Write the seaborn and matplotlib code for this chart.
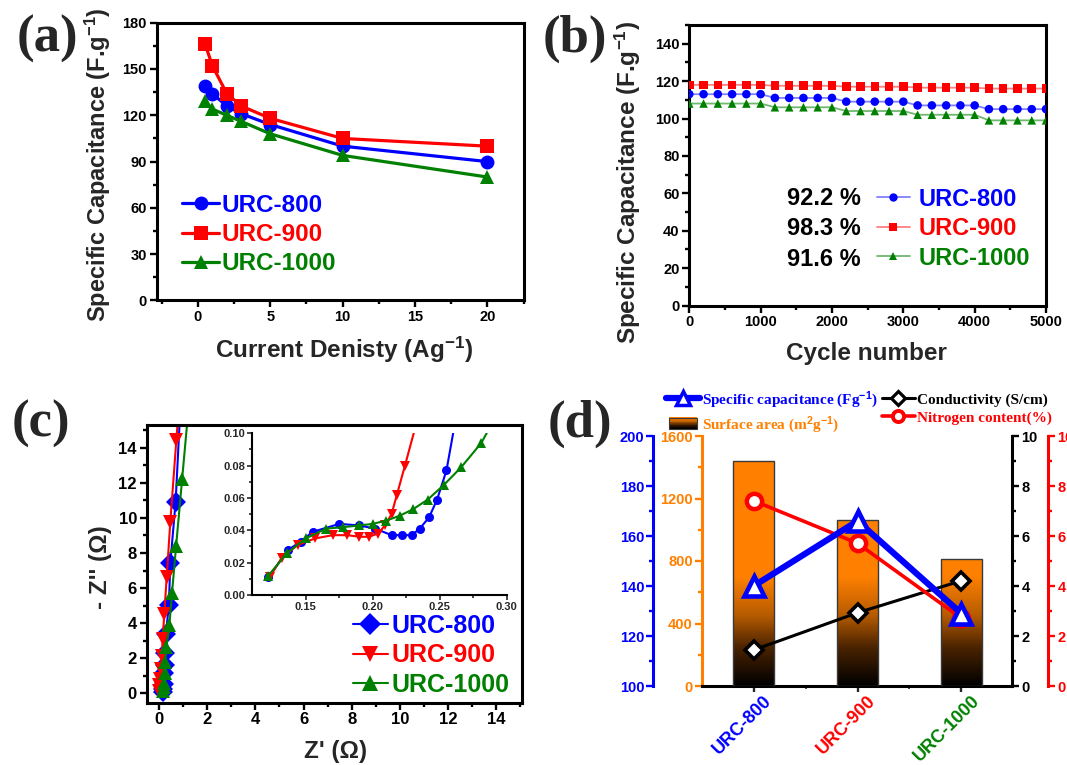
import numpy as np
import pandas as pd
import matplotlib
matplotlib.use("Agg")
import matplotlib.pyplot as plt
import matplotlib.transforms as mtransforms
import seaborn as sns
from matplotlib.lines import Line2D
from matplotlib.patches import Rectangle, Patch
from matplotlib.legend_handler import HandlerBase
from matplotlib.colors import LinearSegmentedColormap
from matplotlib.ticker import MultipleLocator

# ------------------------------------------------------------------ data
samples = ["URC-800", "URC-900", "URC-1000"]

# (a) rate capability
current_density = [0.5, 1, 2, 3, 5, 10, 20]
cap_a_800 = [139, 134, 126, 121, 114, 100, 90]
cap_a_900 = [166, 152, 134, 126, 118, 105, 100]
cap_a_1000 = [129, 124, 120, 116, 108, 94, 80]

# (b) cycling stability
cycles = [0, 200, 400, 600, 800, 1000, 1200, 1400, 1600, 1800, 2000, 2200, 2400,
          2600, 2800, 3000, 3200, 3400, 3600, 3800, 4000, 4200, 4400, 4600, 4800, 5000]
cap_b_800 = [113, 113, 113, 113, 113, 113, 111, 111, 111, 111, 111, 109, 109,
             109, 109, 109, 107, 107, 107, 107, 107, 105, 105, 105, 105, 105]
cap_b_900 = [118, 118, 118, 118, 118, 118, 117.5, 117.5, 117.5, 117.5, 117.5, 117, 117,
             117, 117, 117, 116.5, 116.5, 116.5, 116.5, 116.5, 116, 116, 116, 116, 116]
cap_b_1000 = [108, 108, 108, 108, 108, 108, 106, 106, 106, 106, 106, 104, 104,
              104, 104, 104, 102, 102, 102, 102, 102, 99, 99, 99, 99, 99]
retention = ["92.2 %", "98.3 %", "91.6 %"]

# (c) Nyquist plot, main
zre_800 = [0.15, 0.18, 0.20, 0.22, 0.24, 0.26, 0.29, 0.41, 0.47, 0.69, 0.95]
zim_800 = [0.07, 0.25, 0.55, 1.16, 1.60, 2.28, 3.40, 5.05, 7.42, 10.92, 18.0]
zre_900 = [-0.02, 0.00, 0.05, 0.08, 0.12, 0.15, 0.22, 0.32, 0.47, 0.72, 0.91]
zim_900 = [0.15, 0.45, 0.82, 1.38, 2.13, 3.07, 4.52, 6.62, 9.79, 14.43, 18.0]
zre_1000 = [0.18, 0.20, 0.22, 0.23, 0.26, 0.31, 0.43, 0.54, 0.71, 0.96, 1.34]
zim_1000 = [0.13, 0.35, 0.60, 1.16, 1.81, 2.65, 3.87, 5.72, 8.39, 12.22, 18.0]

# (c) Nyquist plot, inset (high frequency region)
in_zre_800 = [0.122, 0.137, 0.146, 0.155, 0.175, 0.190, 0.202, 0.214, 0.222, 0.229,
              0.235, 0.242, 0.248, 0.255, 0.2613]
in_zim_800 = [0.011, 0.028, 0.033, 0.039, 0.044, 0.043, 0.041, 0.037, 0.037, 0.037,
              0.041, 0.048, 0.059, 0.077, 0.106]
in_zre_900 = [0.123, 0.132, 0.144, 0.157, 0.170, 0.181, 0.190, 0.197, 0.204, 0.209,
              0.214, 0.218, 0.224, 0.2325]
in_zim_900 = [0.011, 0.023, 0.031, 0.035, 0.037, 0.037, 0.036, 0.036, 0.038, 0.043,
              0.050, 0.062, 0.080, 0.106]
in_zre_1000 = [0.122, 0.136, 0.150, 0.165, 0.178, 0.190, 0.200, 0.210, 0.220, 0.230,
               0.241, 0.253, 0.266, 0.281, 0.289]
in_zim_1000 = [0.012, 0.026, 0.035, 0.041, 0.042, 0.043, 0.044, 0.046, 0.049, 0.053,
               0.059, 0.068, 0.079, 0.094, 0.106]

# (d) comparison
surface_area = [1438, 1064, 810]
specific_cap = [140, 166, 129]
conductivity = [1.44, 2.93, 4.21]
nitrogen = [7.41, 5.71, 2.71]

# ------------------------------------------------------------------ style
BLUE, RED, GREEN, ORANGE = "#0000FF", "#FF0000", "#008000", "#FF8000"
pal = {"URC-800": BLUE, "URC-900": RED, "URC-1000": GREEN}

sns.set_style("ticks")
plt.rcParams["font.family"] = ["Liberation Sans", "DejaVu Sans"]
plt.rcParams["font.weight"] = "bold"
plt.rcParams["axes.labelweight"] = "bold"
plt.rcParams["mathtext.fontset"] = "custom"
plt.rcParams["mathtext.rm"] = "Liberation Sans:bold"
plt.rcParams["mathtext.bf"] = "Liberation Sans:bold"
plt.rcParams["mathtext.it"] = "Liberation Sans:bold:italic"
plt.rcParams["mathtext.default"] = "bf"

W, H = 1067, 765
fig = plt.figure(figsize=(W / 100, H / 100), dpi=100)


def box(l, r, t, b):
    return [l / W, 1 - b / H, (r - l) / W, (b - t) / H]


def frame(ax, labelsize=10.5):
    for s in ax.spines.values():
        s.set_visible(True)
        s.set_linewidth(2.2)
        s.set_color("black")
    ax.tick_params(which="both", direction="out", width=1.7, colors="black",
                   labelsize=labelsize, top=False, right=False, pad=2)
    ax.tick_params(which="major", length=5)
    ax.tick_params(which="minor", length=3)


def long_df(xs, ys):
    rows = []
    for name, x, y in zip(samples, xs, ys):
        for xi, yi in zip(x, y):
            rows.append((name, xi, yi))
    return pd.DataFrame(rows, columns=["sample", "x", "y"])


def color_legend_text(leg):
    for t, h in zip(leg.get_texts(), samples):
        t.set_color(pal[h])


# ------------------------------------------------------------------ (a)
ax_a = fig.add_axes(box(156.7, 524.3, 22.7, 300.5))
df_a = long_df([current_density] * 3, [cap_a_800, cap_a_900, cap_a_1000])
sns.lineplot(data=df_a, x="x", y="y", hue="sample", style="sample",
             markers={"URC-800": "o", "URC-900": "s", "URC-1000": "^"},
             dashes=False, palette=pal, markersize=10, linewidth=2.3,
             markeredgewidth=0, sort=False, estimator=None, ax=ax_a, legend=False)
ax_a.set_xlim(-2.85, 22.55)
ax_a.set_ylim(0, 180)
ax_a.xaxis.set_major_locator(MultipleLocator(5))
ax_a.xaxis.set_minor_locator(MultipleLocator(2.5))
ax_a.yaxis.set_major_locator(MultipleLocator(30))
ax_a.yaxis.set_minor_locator(MultipleLocator(15))
frame(ax_a)
ax_a.set_xlabel(r"Current Denisty (Ag$^{-1}$)", fontsize=17.5)
ax_a.set_ylabel(r"Specific Capacitance (F.g$^{-1}$)", fontsize=17)
ax_a.xaxis.set_label_coords(0.51, -0.125)
ax_a.yaxis.set_label_coords(-0.118, 0.49)
h_a = [Line2D([], [], color=pal[s], marker=m, ms=10, mew=0, lw=2.3)
       for s, m in zip(samples, ["o", "s", "^"])]
leg = ax_a.legend(h_a, samples, loc="center left", bbox_to_anchor=(0.07, 0.237),
                  frameon=False, fontsize=17.5, handlelength=1.5, handletextpad=0.1,
                  labelspacing=0.26, borderpad=0, borderaxespad=0)
color_legend_text(leg)

# ------------------------------------------------------------------ (b)
ax_b = fig.add_axes(box(689.3, 1046, 25, 305.5))
df_b = long_df([cycles] * 3, [cap_b_800, cap_b_900, cap_b_1000])
light = {"URC-800": "#8080ff", "URC-900": "#ff8080", "URC-1000": "#70b870"}
sns.lineplot(data=df_b, x="x", y="y", hue="sample", palette=light, linewidth=1.3,
             sort=False, estimator=None, ax=ax_b, legend=False)
sns.scatterplot(data=df_b, x="x", y="y", hue="sample", style="sample",
                markers={"URC-800": "o", "URC-900": "s", "URC-1000": "^"},
                palette=pal, s=38, linewidth=0, ax=ax_b, legend=False, zorder=3)
ax_b.set_xlim(0, 5000)
ax_b.set_ylim(0, 150)
ax_b.xaxis.set_major_locator(MultipleLocator(1000))
ax_b.xaxis.set_minor_locator(MultipleLocator(500))
ax_b.yaxis.set_major_locator(MultipleLocator(20))
ax_b.yaxis.set_minor_locator(MultipleLocator(10))
ax_b.set_yticks([0, 20, 40, 60, 80, 100, 120, 140])
frame(ax_b)
ax_b.set_xlabel("Cycle number", fontsize=17.5)
ax_b.set_ylabel(r"Specific Capacitance (F.g$^{-1}$)", fontsize=17.5)
ax_b.xaxis.set_label_coords(0.498, -0.13)
ax_b.yaxis.set_label_coords(-0.13, 0.44)
h_b = [Line2D([], [], color=light[s], lw=1.3, marker=m, ms=6, mfc=pal[s], mec=pal[s], mew=0)
       for s, m in zip(samples, ["o", "s", "^"])]
leg = ax_b.legend(h_b, samples, loc="center left", bbox_to_anchor=(0.526, 0.274),
                  frameon=False, fontsize=17, handlelength=1.4, handletextpad=0.35,
                  labelspacing=0.28, borderpad=0, borderaxespad=0)
color_legend_text(leg)
for txt, yf in zip(retention, [0.383, 0.274, 0.165]):
    ax_b.text(0.481, yf, txt, transform=ax_b.transAxes, ha="right", va="center",
              fontsize=17, fontweight="bold", color="black")

# ------------------------------------------------------------------ (c)
ax_c = fig.add_axes(box(146.7, 521.7, 425, 702.7))
df_c = long_df([zre_800, zre_900, zre_1000], [zim_800, zim_900, zim_1000])
mk_c = {"URC-800": "D", "URC-900": "v", "URC-1000": "^"}
sns.lineplot(data=df_c, x="x", y="y", hue="sample", style="sample", markers=mk_c,
             dashes=False, palette=pal, markersize=10, linewidth=1.5, markeredgewidth=0,
             sort=False, estimator=None, ax=ax_c, legend=False)
ax_c.set_xlim(-0.51, 15.05)
ax_c.set_ylim(-0.54, 15.3)
for axis in (ax_c.xaxis, ax_c.yaxis):
    axis.set_major_locator(MultipleLocator(2))
    axis.set_minor_locator(MultipleLocator(1))
ax_c.set_xticks([0, 2, 4, 6, 8, 10, 12, 14])
ax_c.set_yticks([0, 2, 4, 6, 8, 10, 12, 14])
frame(ax_c, labelsize=12)
ax_c.set_xlabel("Z' (Ω)", fontsize=17.5)
ax_c.set_ylabel("- Z'' (Ω)", fontsize=17.5)
ax_c.xaxis.set_label_coords(0.504, -0.135)
ax_c.yaxis.set_label_coords(-0.092, 0.49)
h_c = [Line2D([], [], color=pal[s], marker=mk_c[s], ms=11, mew=0, lw=1.5) for s in samples]
leg = ax_c.legend(h_c, samples, loc="center left", bbox_to_anchor=(0.55, 0.17),
                  frameon=False, fontsize=18, handlelength=1.4, handletextpad=0.15,
                  labelspacing=0.22, borderpad=0, borderaxespad=0)
color_legend_text(leg)

ax_in = fig.add_axes(box(252.3, 506.7, 433.3, 595))
df_in = long_df([in_zre_800, in_zre_900, in_zre_1000], [in_zim_800, in_zim_900, in_zim_1000])
sns.lineplot(data=df_in, x="x", y="y", hue="sample", style="sample",
             markers={"URC-800": "o", "URC-900": "v", "URC-1000": "^"},
             dashes=False, palette=pal, markersize=6.5, linewidth=1.5, markeredgewidth=0,
             sort=False, estimator=None, ax=ax_in, legend=False)
ax_in.set_xlim(0.11, 0.30)
ax_in.set_ylim(0, 0.10)
ax_in.set_xticks([0.15, 0.20, 0.25, 0.30])
ax_in.set_yticks([0.00, 0.02, 0.04, 0.06, 0.08, 0.10])
ax_in.xaxis.set_minor_locator(MultipleLocator(0.025))
ax_in.yaxis.set_minor_locator(MultipleLocator(0.01))
ax_in.xaxis.set_major_formatter(matplotlib.ticker.FormatStrFormatter("%.2f"))
ax_in.yaxis.set_major_formatter(matplotlib.ticker.FormatStrFormatter("%.2f"))
for s in ["top", "right"]:
    ax_in.spines[s].set_visible(False)
for s in ["left", "bottom"]:
    ax_in.spines[s].set_linewidth(1.5)
    ax_in.spines[s].set_color("black")
ax_in.tick_params(which="both", direction="out", width=1.2, labelsize=8, pad=1.5)
ax_in.tick_params(which="major", length=3.5)
ax_in.tick_params(which="minor", length=2)
ax_in.set_xlabel("")
ax_in.set_ylabel("")
ax_in.patch.set_alpha(0)

# ------------------------------------------------------------------ (d)
ax_d = fig.add_axes(box(701.7, 1012.3, 436, 686))
df_d = pd.DataFrame({"sample": samples, "area": surface_area})
sns.barplot(data=df_d, x="sample", y="area", color=ORANGE, width=0.392,
            edgecolor="#3a3a3a", linewidth=1.0, ax=ax_d, zorder=3)
bar_cmap = LinearSegmentedColormap.from_list(
    "urc", [(0.0, "#000000"), (0.35, "#4a2300"), (0.65, "#b85c00"), (1.0, ORANGE)])
for p in list(ax_d.patches):
    x0, w, h = p.get_x(), p.get_width(), p.get_height()
    img = ax_d.imshow(np.linspace(0, h, 256).reshape(-1, 1), extent=[x0, x0 + w, 0, h],
                      origin="lower", cmap=bar_cmap, vmin=0, vmax=700, aspect="auto",
                      zorder=2)
    img.set_clip_path(p)
    p.set_facecolor("none")
ax_d.set_xlim(-0.5, 2.49)
ax_d.set_ylim(0, 1600)
ax_d.set_yticks([0, 400, 800, 1200, 1600])
ax_d.yaxis.set_minor_locator(MultipleLocator(200))
ax_d.set_xticks([0, 1, 2])
ax_d.set_xticks([0.5, 1.5], minor=True)
ax_d.set_xlabel("")
ax_d.set_ylabel("")
ax_d.spines["top"].set_visible(False)
ax_d.spines["right"].set_visible(False)
ax_d.spines["left"].set_color(ORANGE)
ax_d.spines["left"].set_linewidth(2.2)
ax_d.spines["bottom"].set_color("black")
ax_d.spines["bottom"].set_linewidth(2.2)
ax_d.tick_params(axis="y", which="both", direction="out", colors=ORANGE, width=1.7,
                 labelsize=10.5, pad=1.5)
ax_d.tick_params(axis="y", which="major", length=5)
ax_d.tick_params(axis="y", which="minor", length=3)
ax_d.tick_params(axis="x", which="major", direction="out", length=4, width=1.7, pad=0.5)
ax_d.tick_params(axis="x", which="minor", direction="out", length=2.5, width=1.2)
ax_d.set_xticklabels(samples, rotation=45, ha="right", va="top", rotation_mode="anchor")
shift = mtransforms.ScaledTranslation(7 / 72, 0, fig.dpi_scale_trans)
for t, s in zip(ax_d.get_xticklabels(), samples):
    t.set_color(pal[s])
    t.set_fontsize(13)
    t.set_transform(t.get_transform() + shift)

ax_black = ax_d.twinx()
ax_red = ax_d.twinx()
ax_blue = ax_d.twinx()
xpos = np.arange(len(samples))

sns.lineplot(x=xpos, y=conductivity, ax=ax_black, color="black", linewidth=2.2,
             marker="D", markersize=9, markerfacecolor="white", markeredgecolor="black",
             markeredgewidth=2.6, sort=False, estimator=None, clip_on=False)
sns.lineplot(x=xpos, y=nitrogen, ax=ax_red, color=RED, linewidth=2.6,
             marker="o", markersize=11, markerfacecolor="white", markeredgecolor=RED,
             markeredgewidth=3.2, sort=False, estimator=None, clip_on=False)
sns.lineplot(x=xpos, y=specific_cap, ax=ax_blue, color=BLUE, linewidth=4.5,
             marker="^", markersize=15, markerfacecolor="white", markeredgecolor=BLUE,
             markeredgewidth=3.3, sort=False, estimator=None, clip_on=False)

for ax, lim, col, side, off, step, minor in [
        (ax_black, (0, 10), "black", "right", 0, 2, 1),
        (ax_red, (0, 10), RED, "right", 25.9, 2, 1),
        (ax_blue, (100, 200), BLUE, "left", 34.8, 20, 10)]:
    ax.set_ylim(*lim)
    ax.set_xlim(-0.5, 2.49)
    for s in ax.spines.values():
        s.set_visible(False)
    sp = ax.spines[side]
    sp.set_visible(True)
    sp.set_color(col)
    sp.set_linewidth(2.2)
    sp.set_position(("outward", off))
    if side == "left":
        ax.yaxis.set_ticks_position("left")
    else:
        ax.yaxis.set_ticks_position("right")
    ax.yaxis.set_major_locator(MultipleLocator(step))
    ax.yaxis.set_minor_locator(MultipleLocator(minor))
    ax.tick_params(axis="y", which="both", direction="out", colors=col, width=1.7,
                   labelsize=10.5, pad=1.5)
    ax.tick_params(axis="y", which="major", length=5)
    ax.tick_params(axis="y", which="minor", length=3)
    ax.set_ylabel("")
    ax.set_xlabel("")


class GradientHandler(HandlerBase):
    def create_artists(self, legend, orig_handle, xdescent, ydescent, width, height,
                       fontsize, trans):
        arts = []
        n = 14
        w = width * 0.85
        x0 = -xdescent + (width - w) / 2
        for i in range(n):
            r = Rectangle((x0, -ydescent + height * i / n), w, height / n + 0.3,
                          facecolor=bar_cmap(i / (n - 1)), edgecolor="none", transform=trans)
            arts.append(r)
        arts.append(Rectangle((x0, -ydescent), w, height, facecolor="none",
                              edgecolor="#3a3a3a", lw=0.8, transform=trans))
        return arts


h_d = [Line2D([], [], color=BLUE, lw=4.5, marker="^", ms=10, mfc="white", mec=BLUE, mew=2.5),
       Patch(),
       Line2D([], [], color="black", lw=2.2, marker="D", ms=7, mfc="white", mec="black", mew=2.3),
       Line2D([], [], color=RED, lw=2.6, marker="o", ms=8, mfc="white", mec=RED, mew=2.8)]
lab_d = [r"Specific capacitance (Fg$^{-1}$)", r"Surface area (m$^{2}$g$^{-1}$)",
         "Conductivity (S/cm)", "Nitrogen content(%)"]
col_d = [BLUE, ORANGE, "black", RED]
leg = fig.legend(h_d, lab_d, loc="upper left", bbox_to_anchor=(666 / W, 1 - 389 / H),
                 ncol=2, frameon=False, handler_map={Patch: GradientHandler()},
                 prop={"family": "Liberation Serif", "weight": "bold", "size": 11},
                 handlelength=2.2, handletextpad=0.15, columnspacing=0.25,
                 labelspacing=0.25, borderpad=0, borderaxespad=0)
for t, c in zip(leg.get_texts(), col_d):
    t.set_color(c)

# ------------------------------------------------------------------ panel letters
for lab, (px, py) in zip(["(a)", "(b)", "(c)", "(d)"],
                         [(47, 39), (575, 39), (41, 424), (580, 424)]):
    fig.text(px / W, 1 - py / H, lab, ha="center", va="center",
             family="Liberation Serif", fontweight="bold", fontsize=38)

fig.savefig("out.png", dpi=100)
